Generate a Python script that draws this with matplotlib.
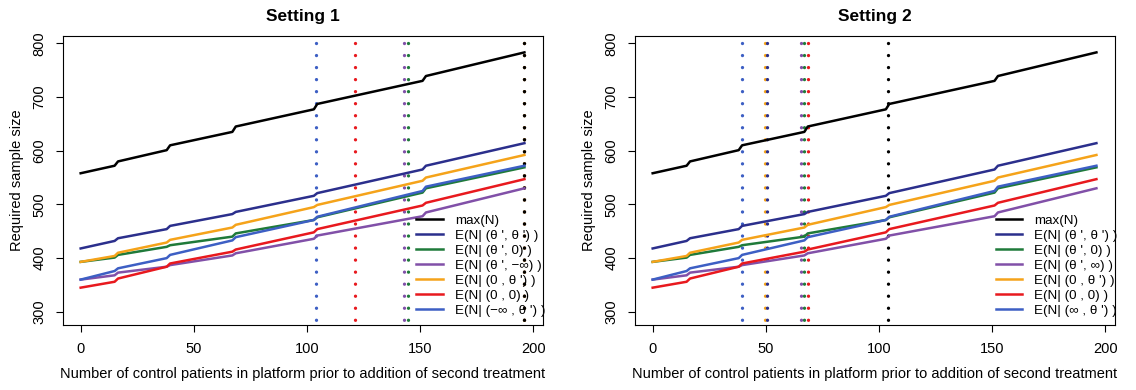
import numpy as np
import matplotlib
matplotlib.use("Agg")
import matplotlib.pyplot as plt

plt.rcParams['font.family'] = ['Liberation Sans', 'DejaVu Sans']

# Дані (однакові криві для обох сценаріїв)
x_pts = [0, 15, 16.5, 38, 39.5, 67, 68.5, 103, 104.5, 151, 152.5, 196]

max_n = [558, 572, 580, 601, 610, 635, 645, 677, 687, 730, 739, 783]
e_tt = [418, 432, 437, 454, 460, 482, 486, 516, 521, 565, 572, 614]
e_t0 = [393, 401, 406, 421, 424, 440, 446, 471, 476, 522, 530, 569]
e_tinf = [360, 368, 373, 384, 387, 405, 409, 436, 442, 478, 485, 530]
e_0t = [393, 404, 410, 429, 434, 457, 462, 495, 499, 544, 550, 592]
e_00 = [345, 356, 362, 384, 390, 412, 416, 448, 454, 498, 503, 547]
e_inft = [360, 376, 381, 400, 406, 433, 439, 471, 477, 525, 533, 572]

series = [max_n, e_tt, e_t0, e_tinf, e_0t, e_00, e_inft]
colors = ['black', '#2b2f8c', '#1f7a3a', '#8150a8', '#f5a31a', '#e8191e', '#3d5fc4']

labels_1 = ["max(N)", "E(N| (θ ', θ ') )", "E(N| (θ ', 0) )", "E(N| (θ ', −∞) )",
            "E(N| (0 , θ ') )", "E(N| (0 , 0) )", "E(N| (−∞ , θ ') )"]
labels_2 = ["max(N)", "E(N| (θ ', θ ') )", "E(N| (θ ', 0) )", "E(N| (θ ', ∞) )",
            "E(N| (0 , θ ') )", "E(N| (0 , 0) )", "E(N| (∞ , θ ') )"]

# вертикальні пунктирні лінії: (колір, x)
vlines_1 = [('#2b2f8c', 196), ('#f5a31a', 196), ('#3d5fc4', 104), ('#e8191e', 121),
            ('#8150a8', 143), ('#1f7a3a', 144.5), ('black', 196)]
vlines_2 = [('#3d5fc4', 39.5), ('#f5a31a', 49.5), ('#2b2f8c', 50.5), ('#8150a8', 65.5),
            ('#1f7a3a', 67), ('#e8191e', 68.5), ('black', 104)]

fig = plt.figure(figsize=(11.36, 3.9), dpi=100)
W, H = 1136, 390


def panel(left_px, title, labels, vlines):
    ax = fig.add_axes([left_px / W, (H - 325) / H, 480 / W, 289 / H])
    for c, xv in vlines:
        ax.plot([xv, xv], [800, 260], color=c, lw=2.4,
                linestyle=(0, (0.01, 3.6)), dash_capstyle='round', zorder=1)
    for vals, c, lab in zip(series, colors, labels):
        ax.plot(x_pts, vals, color=c, lw=1.8, label=lab, zorder=2)
    ax.set_xlim(-7.8, 204.2)
    ax.set_ylim(275.5, 813.5)
    ax.set_xticks([0, 50, 100, 150, 200])
    ax.set_yticks([300, 400, 500, 600, 700, 800])
    ax.tick_params(axis='both', direction='out', length=5, width=0.8,
                   labelsize=10.5, pad=7)
    for lab in ax.get_yticklabels():
        lab.set_rotation(90)
        lab.set_va('center')
    for s in ax.spines.values():
        s.set_linewidth(0.8)
    ax.set_title(title, fontsize=12.5, fontweight='bold', pad=11)
    ax.set_xlabel("Number of control patients in platform prior to addition of second treatment",
                  fontsize=10.5, labelpad=8)
    ax.set_ylabel("Required sample size", fontsize=10.5, labelpad=6)
    ax.legend(loc='lower right', frameon=False, fontsize=9.6, handlelength=2.0,
              labelspacing=0.2, borderaxespad=0.2, handletextpad=0.9,
              bbox_to_anchor=(1.022, 0.0))
    return ax


panel(63, "Setting 1", labels_1, vlines_1)
panel(635, "Setting 2", labels_2, vlines_2)

fig.savefig("out.png", dpi=100)
